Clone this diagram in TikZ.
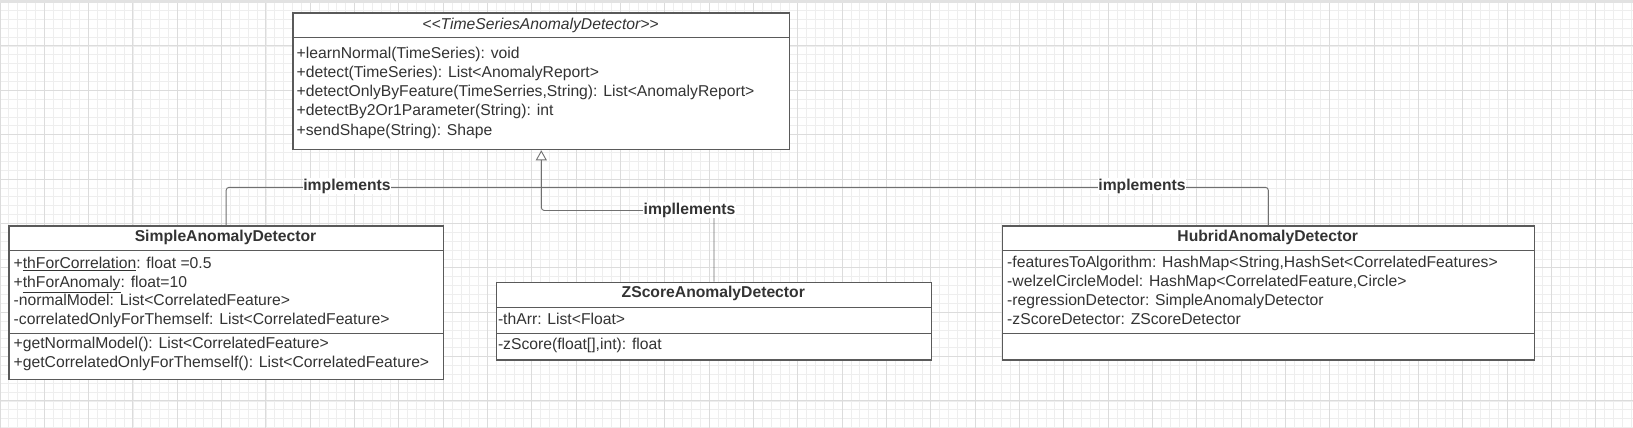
\documentclass[tikz,border=0pt]{standalone}
\usepackage{fontspec}
\setmainfont{Liberation Sans}
\usetikzlibrary{arrows.meta}
\definecolor{txt}{HTML}{333333}
\definecolor{bord}{HTML}{5A5A5A}
\definecolor{conn}{HTML}{707070}
\definecolor{gminor}{HTML}{EEEEEE}
\definecolor{gmajor}{HTML}{DCDCDC}
\definecolor{topbar}{HTML}{E2E2E2}
\begin{document}
\begin{tikzpicture}[x=1pt,y=-1pt,
  umlbox/.style={draw=bord, line width=1.3pt, fill=white, inner sep=0pt, anchor=north west},
  divider/.style={draw=bord, line width=1.1pt},
  member/.style={anchor=west, inner sep=0pt, text=txt, font=\fontsize{15.7}{19}\selectfont, text height=13pt, text depth=3pt},
  header/.style={anchor=center, inner sep=0pt, text=txt, font=\fontsize{15.7}{19}\selectfont\bfseries, text height=13pt, text depth=3pt},
  title/.style={anchor=center, inner sep=0pt, text=txt, font=\fontsize{15.7}{19}\selectfont\itshape, text height=13pt, text depth=3pt},
  connector/.style={draw=conn, line width=0.9pt, rounded corners=3pt},
  lbl/.style={fill=white, inner sep=0.6pt, text=txt, font=\fontsize{15.7}{19}\selectfont\bfseries},
  minorline/.style={draw=gminor, line width=0.9pt},
  majorline/.style={draw=gmajor, line width=1pt}]
\useasboundingbox (0,0) rectangle (1633,428);
% background grid
\fill[white] (0,0) rectangle (1633,428);
\foreach \i in {0,...,184} {\draw[minorline] ({\i*8.865},0) -- ({\i*8.865},428);}
\foreach \j in {0,...,48} {\draw[minorline] (0,{1.6+\j*8.875}) -- (1633,{1.6+\j*8.875});}
\foreach \i in {0,...,36} {\draw[majorline] ({\i*44.325},0) -- ({\i*44.325},428);}
\foreach \j in {0,...,9} {\draw[majorline] (0,{1.6+\j*44.375}) -- (1633,{1.6+\j*44.375});}
\fill[topbar] (0,0) rectangle (1633,3);

% boxes (outlines)
\node[umlbox, minimum width=496.7pt, minimum height=136.7pt] (top) at (292.3,12.3) {};
\node[umlbox, minimum width=434.4pt, minimum height=153.7pt] (simple) at (8.3,225.3) {};
\node[umlbox, minimum width=434.7pt, minimum height=77.6pt] (zscore) at (496,281.7) {};
\node[umlbox, minimum width=531.8pt, minimum height=134pt] (hubrid) at (1001.8,225.3) {};

% connectors
\coordinate (bus) at (0,187.3);
\coordinate (zbus) at (0,210.5);
\draw[connector] (simple.north) -- (simple.north |- bus) -- (hubrid.north |- bus) -- (hubrid.north);
\draw[connector, -{Triangle[open, fill=white, length=10pt, width=11pt]}] (zscore.north) -- (zscore.north |- zbus) -- (top.south |- zbus) -- (top.south);
\node[lbl] (lS) at (347,186.3) {implements};
\node[lbl] (lH) at (1142,186.3) {implements};
\node[lbl] (lZ) at (689.5,210.3) {impllements};

% interface
\node[title] (topT) at (540.5,25) {<\kern0pt<TimeSeriesAnomalyDetector>\kern0pt>};
\draw[divider] (292.3,37.7) -- (789,37.7);
\node[member] (t1) at (296.5,53.3) {+learnNormal(TimeSeries): void};
\node[member] (t2) at (296.5,72.5) {+detect(TimeSeries): List<AnomalyReport>};
\node[member] (t3) at (296.5,91.7) {+detectOnlyByFeature(TimeSerries,String): List<AnomalyReport>};
\node[member] (t4) at (296.5,110.9) {+detectBy2Or1Parameter(String): int};
\node[member] (t5) at (296.5,130.1) {+sendShape(String): Shape};

% simple
\node[header] (simpleT) at (225.5,236.9) {SimpleAnomalyDetector};
\draw[divider] (8.3,250.7) -- (442.7,250.7);
\draw[divider] (8.3,333.3) -- (442.7,333.3);
\node[member] (s1) at (13.5,263.3) {+\underline{thForCorrelation}: float =0.5};
\node[member] (s2) at (13.5,282.1) {+\underline{thForAnomaly}: float=10};
\node[member] (s3) at (13.5,300.9) {-normalModel: List<CorrelatedFeature>};
\node[member] (s4) at (13.5,319.7) {-correlatedOnlyForThemself: List<CorrelatedFeature>};
\node[member] (s5) at (13.5,343.4) {+getNormalModel(): List<CorrelatedFeature>};
\node[member] (s6) at (13.5,362.4) {+getCorrelatedOnlyForThemself(): List<CorrelatedFeature>};

% zscore
\node[header] (zscoreT) at (713.3,292.8) {ZScoreAnomalyDetector};
\draw[divider] (496,307.7) -- (930.7,307.7);
\draw[divider] (496,333.3) -- (930.7,333.3);
\node[member] (z1) at (497.8,319.2) {-thArr: List<Float>};
\node[member] (z2) at (497.8,344.2) {-zScore(float[],int): float};

% hubrid
\node[header] (hubridT) at (1267.7,236.8) {HubridAnomalyDetector};
\draw[divider] (1001.8,250.7) -- (1533.6,250.7);
\draw[divider] (1001.8,333.3) -- (1533.6,333.3);
\node[member] (h1) at (1007,262.7) {-featuresToAlgorithm: HashMap<String,HashSet<CorrelatedFeatures>};
\node[member] (h2) at (1007,281.7) {-welzelCircleModel: HashMap<CorrelatedFeature,Circle>};
\node[member] (h3) at (1007,300.7) {-regressionDetector: SimpleAnomalyDetector};
\node[member] (h4) at (1007,319.7) {-zScoreDetector: ZScoreDetector};
\end{tikzpicture}
\end{document}
